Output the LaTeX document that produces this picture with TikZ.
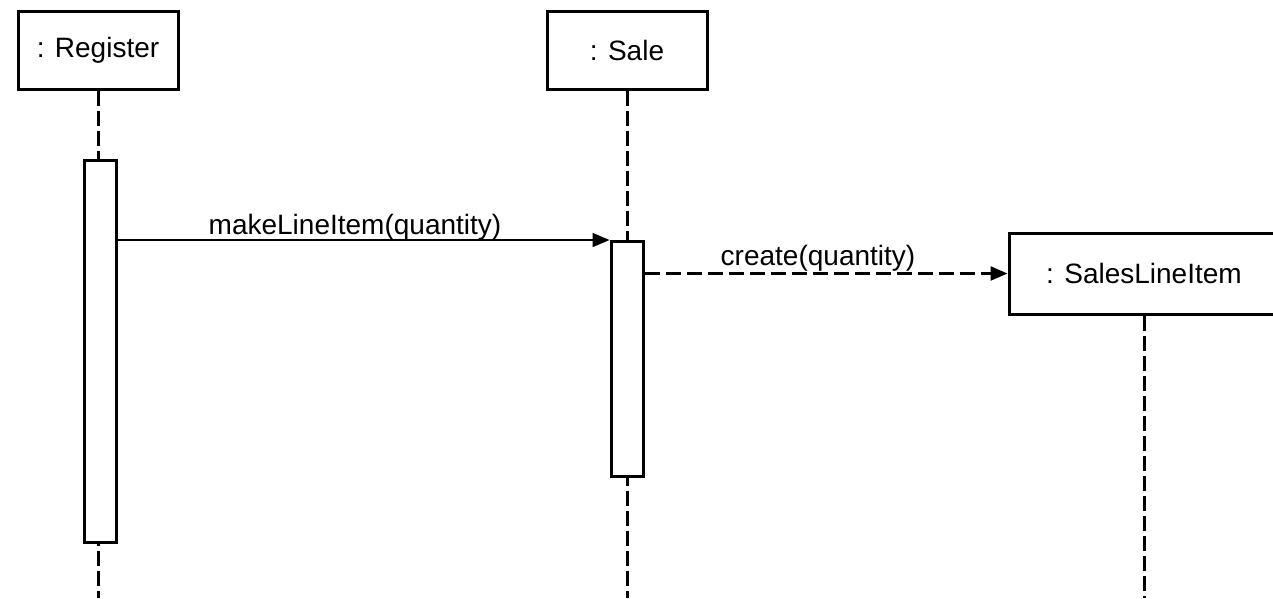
\documentclass[tikz,border=0pt]{standalone}
\usepackage{fontspec}
\setmainfont{Liberation Sans}
\usetikzlibrary{arrows.meta}
\begin{document}
\begin{tikzpicture}[x=1pt,y=-1pt,
  obj/.style={draw,line width=3pt,minimum height=78pt,inner sep=0pt,font=\fontsize{28}{32}\selectfont},
  act/.style={draw,fill=white,line width=3pt,minimum width=32pt,inner sep=0pt},
  life/.style={line width=3pt,dash pattern=on 15pt off 5pt},
  msg/.style={line width=1.8pt,-{Triangle[length=17pt,width=14pt]}},
  lbl/.style={font=\fontsize{28}{32}\selectfont,inner sep=0pt,anchor=base}]
\useasboundingbox (0,0) rectangle (1273,598);
% objects
\node[obj,minimum width=160pt] (reg) at (98,50) {: Register};
\node[obj,minimum width=160pt] (sale) at (627,50) {: Sale};
\node[obj,minimum width=270pt,minimum height=81pt] (sli) at (1144,273.5) {: SalesLineItem};
% lifeline ends
\coordinate (regend) at (98,598);
\coordinate (saleend) at (627,598);
\coordinate (sliend) at (1144,598);
% lifelines
\draw[life] (reg.south) -- (regend);
\draw[life] (sale.south) -- (saleend);
\draw[life] (sli.south) -- (sliend);
% activations
\node[act,minimum height=382pt] (regact) at (100.5,351) {};
\node[act,minimum height=235pt] (saleact) at (627,359) {};
% messages
\draw[msg] (regact.east |- saleact.north west) -- (saleact.north west);
\node[lbl] (l1) at (355,234) {makeLineItem(quantity)};
\draw[msg,line width=2.4pt,dash pattern=on 15pt off 6pt] (saleact.east |- sli.west) -- (sli.west);
\node[lbl] (l2) at (818,265) {create(quantity)};
\end{tikzpicture}
\end{document}
